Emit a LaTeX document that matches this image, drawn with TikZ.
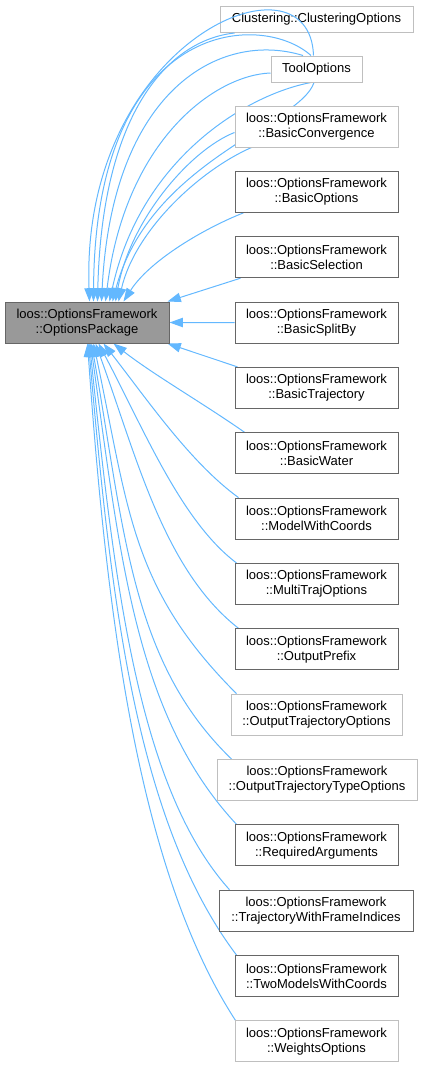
\documentclass[tikz,border=0pt]{standalone}
\usepackage{fontspec}
\setmainfont{Liberation Sans}
\usetikzlibrary{arrows.meta,calc}
\pgfdeclarelayer{bg}
\pgfdeclarelayer{edges}
\pgfsetlayers{bg,edges,main}
\definecolor{edgeblue}{HTML}{63B8FF}
\definecolor{darkborder}{HTML}{666666}
\definecolor{lightborder}{HTML}{BFBFBF}
\definecolor{pkgfill}{HTML}{999999}
\begin{document}
\begin{tikzpicture}[x=0.75pt,y=-0.75pt,
  box/.style={draw=darkborder, fill=white, line width=0.75pt, inner sep=0pt, align=center,
    minimum height=30.75pt, font=\fontsize{9.75}{11.25}\selectfont},
  lbox/.style={box, draw=lightborder},
  wide/.style={minimum width=#1*0.75pt},
  single/.style={minimum height=19.5pt},
  edge/.style={draw=edgeblue, line width=0.75pt, -{Triangle[length=10pt,width=7pt]}}
]
\useasboundingbox (0,0) rectangle (421,1067);

\node[box, fill=pkgfill, wide=164] (pkg) at (87,322.5) {loos::OptionsFramework\\::OptionsPackage};
\begin{pgfonlayer}{bg}
\node[lbox, wide=193, single] (clu) at (316.5,19.5) {Clustering::ClusteringOptions};
\end{pgfonlayer}
\node[lbox, wide=91, single] (tool) at (316.5,69) {ToolOptions};
\node[lbox, wide=163] (n0) at (316.5,126.5) {loos::OptionsFramework\\::BasicConvergence};
\node[box, wide=163] (n1) at (316.5,191.85) {loos::OptionsFramework\\::BasicOptions};
\node[box, wide=163] (n2) at (316.5,257.2) {loos::OptionsFramework\\::BasicSelection};
\node[box, wide=163] (n3) at (316.5,322.55) {loos::OptionsFramework\\::BasicSplitBy};
\node[box, wide=163] (n4) at (316.5,387.9) {loos::OptionsFramework\\::BasicTrajectory};
\node[box, wide=163] (n5) at (316.5,453.25) {loos::OptionsFramework\\::BasicWater};
\node[box, wide=163] (n6) at (316.5,518.6) {loos::OptionsFramework\\::ModelWithCoords};
\node[box, wide=163] (n7) at (316.5,583.95) {loos::OptionsFramework\\::MultiTrajOptions};
\node[box, wide=163] (n8) at (316.5,649.3) {loos::OptionsFramework\\::OutputPrefix};
\node[lbox, wide=171] (n9) at (316.5,714.65) {loos::OptionsFramework\\::OutputTrajectoryOptions};
\node[lbox, wide=200] (n10) at (317,780) {loos::OptionsFramework\\::OutputTrajectoryTypeOptions};
\node[box, wide=163] (n11) at (316.5,845.35) {loos::OptionsFramework\\::RequiredArguments};
\node[box, wide=194] (n12) at (316,910.7) {loos::OptionsFramework\\::TrajectoryWithFrameIndices};
\node[box, wide=163] (n13) at (316.5,976.05) {loos::OptionsFramework\\::TwoModelsWithCoords};
\node[lbox, wide=163] (n14) at (316.5,1041.4) {loos::OptionsFramework\\::WeightsOptions};

\begin{pgfonlayer}{edges}
% edges into the top of the package
\draw[edge] ($(tool.north)+(-3,0)$) .. controls (310,-55) and (80,40) .. ($(pkg.north west)+(85,0)$);
\draw[edge] ($(tool.north)+(-5.5,0)$) .. controls (260,10) and (95,20) .. ($(pkg.north west)+(89,0)$);
\draw[edge] ($(clu.south west)+(15,0)$) .. controls (170,40) and (102,110) .. ($(pkg.north west)+(93,0)$);
\draw[edge] ($(tool.north)+(-13.5,0)$) .. controls (220,30) and (112,90) .. ($(pkg.north west)+(97,0)$);
\draw[edge] ($(tool.west)+(0,4)$) .. controls (215,75) and (125,140) .. ($(pkg.north west)+(101,0)$);
\draw[edge] ($(tool.south)+(-5.5,0)$) .. controls (245,95) and (140,160) .. ($(pkg.north west)+(105,0)$);
\draw[edge] ($(tool.south)+(-2.5,0)$) .. controls (300,125) and (150,160) .. ($(pkg.north west)+(108,0)$);
\draw[edge] ($(n0.west)+(0,6)$) .. controls (190,150) and (130,220) .. ($(pkg.north west)+(111,0)$);
\draw[edge] ($(n0.south west)+(17,0)$) .. controls (200,170) and (135,230) .. ($(pkg.north west)+(114,0)$);
\draw[edge] ($(n1.south west)+(9,0)$) .. controls (205,228) and (150,260) .. ($(pkg.north west)+(119,0)$);
\draw[edge] ($(n2.south west)+(6,0)$) -- ($(pkg.north east)+(-2,0)$);
% side
\draw[edge] (n3.west) -- (pkg.east);
% edges into the bottom of the package
\draw[edge] ($(n4.north west)+(3,0)$) -- ($(pkg.south east)+(-2,0)$);
\draw[edge] ($(n5.north west)+(10,0)$) .. controls +(215:50) and +(38:50) .. ($(pkg.south west)+(109,0)$);
\draw[edge] ($(n6.north west)+(4,0)$) .. controls +(216:60) and +(52:70) .. ($(pkg.south west)+(99,0)$);
\draw[edge] ($(n7.north west)+(2,0)$) .. controls +(217:70) and +(62:95) .. ($(pkg.south west)+(94,0)$);
\draw[edge] ($(n8.north west)+(4,0)$) .. controls +(218:95) and +(70:120) .. ($(pkg.south west)+(91,0)$);
\draw[edge] ($(n9.north west)+(6,0)$) .. controls +(225:150) and +(78:170) .. ($(pkg.south west)+(89,0)$);
\draw[edge] ($(n10.north west)+(15,0)$) .. controls +(224:140) and +(80:190) .. ($(pkg.south west)+(87,0)$);
\draw[edge] ($(n11.north west)+(2,0)$) .. controls +(227:150) and +(82:210) .. ($(pkg.south west)+(86,0)$);
\draw[edge] ($(n12.north west)+(11,0)$) .. controls +(228:140) and +(84:230) .. ($(pkg.south west)+(85,0)$);
\draw[edge] ($(n13.north west)+(2,0)$) .. controls +(233:170) and +(85:250) .. ($(pkg.south west)+(84,0)$);
\draw[edge] ($(n14.north west)+(1,0)$) .. controls +(237:180) and +(86:270) .. ($(pkg.south west)+(83,0)$);
\end{pgfonlayer}
\end{tikzpicture}
\end{document}
